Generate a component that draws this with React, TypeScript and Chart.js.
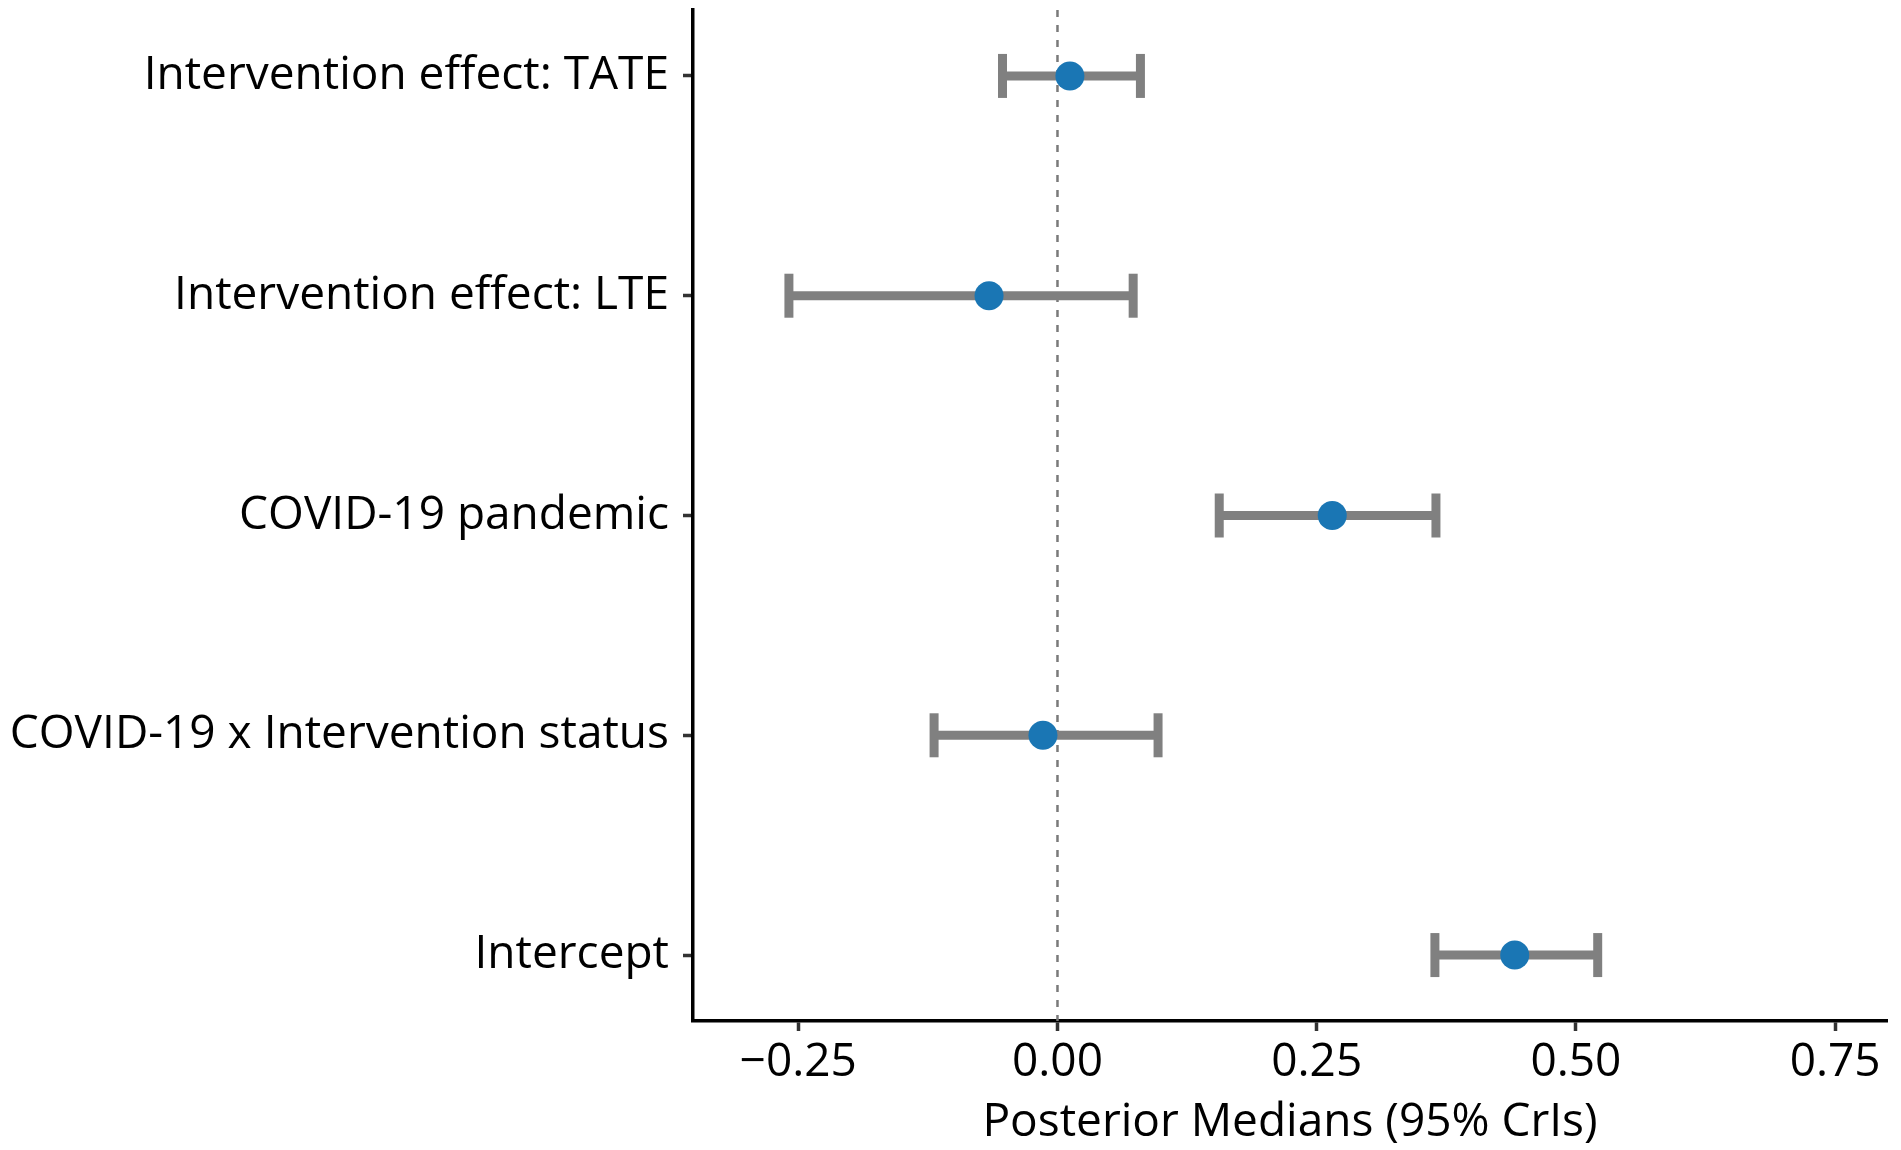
import React, { useEffect, useRef } from "react";
import { Chart, registerables } from "chart.js";

Chart.register(...registerables);

const categories = [
  "Intervention effect: TATE",
  "Intervention effect: LTE",
  "COVID-19 pandemic",
  "COVID-19 x Intervention status",
  "Intercept",
];
const medians = [0.012, -0.066, 0.265, -0.014, 0.441];
const lower = [-0.053, -0.259, 0.156, -0.119, 0.364];
const upper = [0.08, 0.073, 0.365, 0.097, 0.521];
const xTicks = [-0.25, 0, 0.25, 0.5, 0.75];
const xTitle = "Posterior Medians (95% CrIs)";

const FONT = "'Open Sans'";
const GREY = "#808080";
const BLUE = "#1a76b4";

export default function App() {
  const ref = useRef<HTMLCanvasElement | null>(null);

  useEffect(() => {
    if (!ref.current) return;
    const yMin = 0.7;
    const yMax = categories.length + 0.3;

    const barSets = categories.map((c, i) => ({
      type: "line" as const,
      label: c,
      data: [
        { x: lower[i], y: i + 1 },
        { x: upper[i], y: i + 1 },
      ],
      borderColor: GREY,
      borderWidth: 9,
      pointStyle: "line" as const,
      rotation: 90,
      pointRadius: 22,
      pointBorderWidth: 9,
      pointBorderColor: GREY,
      pointBackgroundColor: GREY,
      pointHoverRadius: 22,
      clip: false as const,
    }));

    const noPad = (s: any) => {
      s.paddingTop = 0;
      s.paddingBottom = 0;
      s.paddingLeft = 0;
      s.paddingRight = 0;
    };

    const chart = new Chart(ref.current, {
      type: "scatter",
      data: {
        datasets: [
          {
            type: "scatter",
            label: "median",
            data: medians.map((m, i) => ({ x: m, y: i + 1 })),
            pointRadius: 14.5,
            pointHoverRadius: 14.5,
            backgroundColor: BLUE,
            borderWidth: 0,
            clip: false,
          },
          ...barSets,
          {
            type: "line",
            label: "zero",
            data: [
              { x: 0, y: yMin },
              { x: 0, y: yMax },
            ],
            borderColor: "#7a7a7a",
            borderWidth: 2.5,
            borderDash: [7, 8],
            pointRadius: 0,
          },
        ] as any,
      },
      options: {
        animation: false,
        responsive: true,
        maintainAspectRatio: false,
        layout: {
          autoPadding: false,
          padding: { top: 10, right: 14, left: 0, bottom: 0 },
        },
        plugins: { legend: { display: false }, tooltip: { enabled: false } },
        scales: {
          x: {
            type: "linear",
            min: -0.3515,
            max: 0.8,
            afterBuildTicks: (s: any) => {
              s.ticks = xTicks.map((v) => ({ value: v }));
            },
            afterFit: (s: any) => {
              s.height = 129;
              noPad(s);
            },
            ticks: {
              autoSkip: false,
              maxRotation: 0,
              padding: 4,
              color: "#000",
              font: { family: FONT, size: 46 },
              callback: (v: any) => {
                const n = Number(v);
                const s = Math.abs(n).toFixed(2);
                return n < 0 ? "\u2212" + s : s;
              },
            },
            grid: {
              drawOnChartArea: false,
              drawTicks: true,
              tickLength: 10,
              tickWidth: 3.5,
              tickColor: "#333",
            },
            border: { display: true, color: "#000", width: 3.5 },
            title: {
              display: true,
              text: xTitle,
              color: "#000",
              font: { family: FONT, size: 46 },
              padding: { top: 0, bottom: 0 },
            },
          },
          y: {
            type: "linear",
            reverse: true,
            min: yMin,
            max: yMax,
            afterBuildTicks: (s: any) => {
              s.ticks = categories.map((_, i) => ({ value: i + 1 }));
            },
            afterFit: (s: any) => {
              s.width = 693;
              noPad(s);
            },
            ticks: {
              autoSkip: false,
              padding: 14,
              color: "#000",
              font: { family: FONT, size: 46 },
              callback: (v: any) => categories[Math.round(Number(v)) - 1] ?? "",
            },
            grid: {
              drawOnChartArea: false,
              drawTicks: true,
              tickLength: 10,
              tickWidth: 3.5,
              tickColor: "#333",
            },
            border: { display: true, color: "#000", width: 3.5 },
          },
        },
      },
    });
    return () => chart.destroy();
  }, []);

  return (
    <div
      style={{
        position: "absolute",
        left: 0,
        top: 0,
        width: 1901,
        height: 1150,
        background: "#fff",
      }}
    >
      <canvas ref={ref} />
    </div>
  );
}
